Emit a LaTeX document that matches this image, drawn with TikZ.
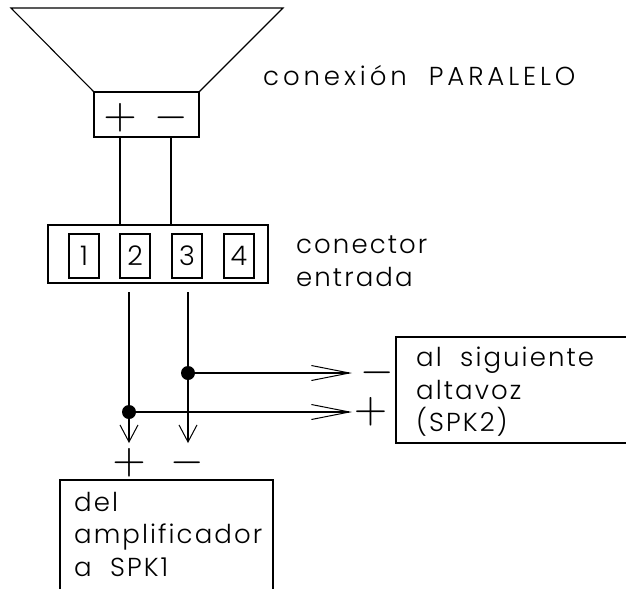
\documentclass[tikz,border=0pt]{standalone}
\usepackage{fontspec}
\setmainfont[LetterSpace=8, WordSpace=2]{Poppins Light}
\usetikzlibrary{arrows.meta}
\tikzset{
    box/.style={draw, line width=1.1pt, inner sep=0pt},
    pin/.style={box, minimum width=30pt, minimum height=44pt, font=\fontsize{27}{27}\selectfont},
    label/.style={anchor=north west, align=left, inner sep=0pt, font=\fontsize{26}{32.5}\selectfont},
    sign/.style={inner sep=0pt, scale=4.3},
    dot/.style={circle, fill=black, inner sep=0pt, minimum size=14pt},
    wire/.style={line width=1.1pt},
    arrowh/.style={wire, -{Straight Barb[length=38pt, width=15pt, line width=1pt]}},
    arrowv/.style={wire, -{Straight Barb[length=17pt, width=18pt, line width=1pt]}}
}
\begin{document}
\begin{tikzpicture}[x=1pt, y=-1pt]
    \useasboundingbox (0,0) rectangle (626,589);
    % altavoz
    \draw[wire] (11,8) -- (283,8) -- (199,92) -- (94,92) -- cycle;
    \node[box, minimum width=105pt, minimum height=45pt] (spk) at (146.5,114.5) {};
    \node[sign] (spkp) at (120,118) {$+$};
    \node[sign] (spkm) at (171,118) {$-$};
    \node[label] (title) at (263,65) {\addfontfeature{LetterSpace=15}conexión PARALELO};
    % conector
    \node[box, minimum width=220pt, minimum height=58pt] (conn) at (158,254) {};
    \foreach \n/\x in {1/84,2/135,3/187,4/239}
        \node[pin] (pin\n) at (\x,256) {\n};
    \node[label] (connlabel) at (296,236) {conector\\entrada};
    \draw[wire] (spkp |- spk.south) -- (spkp |- conn.north);
    \draw[wire] (spkm |- spk.south) -- (spkm |- conn.north);
    % cables
    \coordinate (outp) at (129,292);
    \coordinate (outm) at (188,292);
    \node[dot] (dotm) at (188,373) {};
    \node[dot] (dotp) at (129,412) {};
    \coordinate (endm) at (352,373);
    \coordinate (endp) at (352,412);
    \coordinate (downp) at (129,443);
    \coordinate (downm) at (188,443);
    \draw[arrowv] (outp) -- (downp);
    \draw[arrowv] (outm) -- (downm);
    \draw[arrowh] (dotm) -- (endm);
    \draw[arrowh] (dotp) -- (endp);
    \node[sign] (nextm) at (377.5,373) {$-$};
    \node[sign] (nextp) at (370.5,412) {$+$};
    \node[sign] (ampp) at (129,463) {$+$};
    \node[sign] (ampm) at (187.5,463) {$-$};
    % cajas abiertas
    \draw[wire] (626,337) -- (396,337) -- (396,443) -- (626,443);
    \node[label] (nextlabel) at (416,347) {al siguiente\\altavoz\\(SPK2)};
    \draw[wire] (60,589) -- (60,480) -- (273,480) -- (273,589);
    \node[label] (amplabel) at (74,492) {del\\amplificador\\a SPK1};
\end{tikzpicture}
\end{document}
